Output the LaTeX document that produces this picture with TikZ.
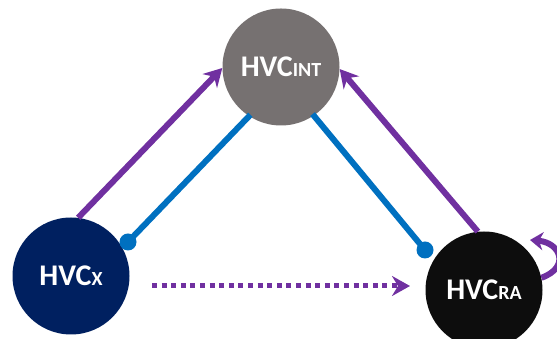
\documentclass[tikz,border=0pt]{standalone}
\usepackage{fontspec}
\setmainfont{Carlito}
\usetikzlibrary{arrows.meta}
\definecolor{intgray}{RGB}{118,113,113}
\definecolor{xnavy}{RGB}{0,32,96}
\definecolor{ranoir}{RGB}{13,13,13}
\definecolor{hvcpurple}{RGB}{112,48,160}
\definecolor{hvcblue}{RGB}{0,112,192}
\newcommand{\sub}[1]{{\fontsize{20}{20}\selectfont #1}}
\tikzset{
  hvc/.style={circle,minimum size=117pt,inner sep=0pt,text=white,
    font=\fontsize{30}{30}\selectfont\bfseries},
  feed/.style={hvcpurple,line width=6pt,
    -{Stealth[length=18pt,width=20pt,inset=6pt]}},
  link/.style={hvcblue,line width=6pt,shorten <=-2pt},
  dot/.style={circle,fill=hvcblue,inner sep=0pt,minimum size=17pt}
}

\begin{document}
\begin{tikzpicture}[x=1pt,y=1pt]
\clip (0,0) rectangle (557,339);
\node[hvc,fill=intgray] (int) at (281,272) {HVC\sub{INT}};
\node[hvc,fill=xnavy] (x) at (71,63) {HVC\sub{X}};
\node[hvc,fill=ranoir] (ra) at (484,49) {HVC\sub{RA}};
\node[dot] (xdot) at (128,97) {};
\node[dot] (radot) at (425,89) {};
\coordinate (dstart) at (152,53);
\coordinate (dend) at (410,53);
\coordinate (loopend) at (530,99);
% forward connections
\draw[feed] (x.83) -- (int.181);
\draw[feed] (ra.96) -- (int.358);
\draw[feed,line width=5pt,dash pattern=on 5pt off 4.6pt] (dstart) -- (dend);
% feedback from INT
\draw[link] (int.237) -- (xdot.center);
\draw[link] (int.304) -- (radot.center);
% self loop on RA
\draw[feed,-{Stealth[length=13pt,width=18pt,inset=4pt]}] (ra.12) to[out=20,in=-5,looseness=2] (loopend);
\end{tikzpicture}
\end{document}
